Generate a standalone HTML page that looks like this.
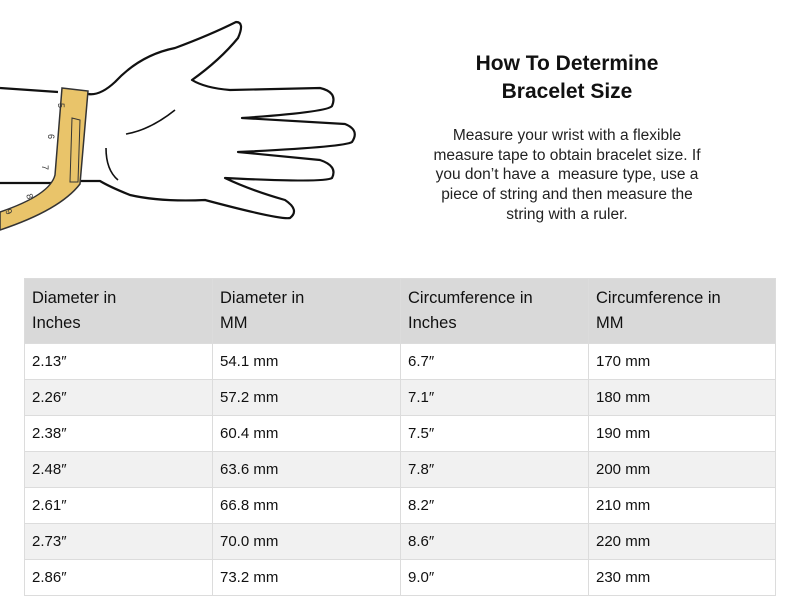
<!DOCTYPE html>
<html><head><meta charset="utf-8"><style>
body{margin:0;width:800px;height:600px;background:#fff;font-family:"Liberation Sans",sans-serif;position:relative;overflow:hidden;color:#222}
.title{position:absolute;left:417px;top:50px;width:300px;text-align:center;font-weight:bold;font-size:21px;line-height:28px;color:#111}
.desc{position:absolute;left:387px;top:126px;width:360px;text-align:center;font-size:15.5px;line-height:19.7px;color:#222;white-space:nowrap}
table{position:absolute;left:24px;top:278px;width:752px;border-collapse:collapse;font-size:15px}
td,th{border:1px solid #dcdcdc;text-align:left;padding:0 0 0 7px;font-weight:normal}
th{background:#d9d9d9;height:64px;font-size:16.5px;line-height:25px;color:#111;vertical-align:middle}
td{height:35px;color:#111}
tr:nth-child(odd) td{background:#f1f1f1}
</style></head><body>
<svg width="400" height="260" style="position:absolute;left:0;top:0">
<path d="M0,88 L58,92 M88,94 Q100,96 115,82 Q140,55 175,48 Q210,35 236,22 Q245,22 238,38 Q220,60 192,80 Q205,88 230,90 L320,88 Q338,92 332,106 Q328,112 242,118 L345,124 Q360,130 352,142 Q345,147 238,152 L320,160 Q338,166 332,178 Q325,183 225,178 Q250,190 285,200 Q300,210 290,218 Q280,220 205,200 Q160,202 130,195 Q110,187 100,181 L80,181 M0,183 L60,183" fill="none" stroke="#111" stroke-width="2.2" stroke-linejoin="round"/>
<path d="M126,134 Q150,130 175,110 M106,148 Q106,170 118,180" fill="none" stroke="#111" stroke-width="1.6"/>
<path d="M62,88 L88,91 L80,184 Q60,210 0,230 L0,212 Q50,195 55,175 Z" fill="#e9c46a" stroke="#333" stroke-width="1.5"/>
<path d="M72,118 L80,120 L78,182 L70,182 Z" fill="#e9c46a" stroke="#333" stroke-width="1"/>
<text x="58" y="103" font-size="9" fill="#333" transform="rotate(90 58 103)">5</text>
<text x="48" y="134" font-size="9" fill="#333" transform="rotate(90 48 134)">6</text>
<text x="42" y="165" font-size="9" fill="#333" transform="rotate(90 42 165)">7</text>
<text x="26" y="195" font-size="9" fill="#333" transform="rotate(70 26 195)">8</text>
<text x="5" y="211" font-size="9" fill="#333" transform="rotate(60 5 211)">9</text>
</svg>
<div class="title">How To Determine<br>Bracelet Size</div>
<div class="desc">Measure your wrist with a flexible<br>measure tape to obtain bracelet size. If<br>you don’t have a &nbsp;measure type, use a<br>piece of string and then measure the<br>string with a ruler.</div>
<table>
<tr><th style="width:180px">Diameter in<br>Inches</th><th style="width:180px">Diameter in<br>MM</th><th style="width:180px">Circumference in<br>Inches</th><th>Circumference in<br>MM</th></tr>
<tr><td>2.13″</td><td>54.1 mm</td><td>6.7″</td><td>170 mm</td></tr>
<tr><td>2.26″</td><td>57.2 mm</td><td>7.1″</td><td>180 mm</td></tr>
<tr><td>2.38″</td><td>60.4 mm</td><td>7.5″</td><td>190 mm</td></tr>
<tr><td>2.48″</td><td>63.6 mm</td><td>7.8″</td><td>200 mm</td></tr>
<tr><td>2.61″</td><td>66.8 mm</td><td>8.2″</td><td>210 mm</td></tr>
<tr><td>2.73″</td><td>70.0 mm</td><td>8.6″</td><td>220 mm</td></tr>
<tr><td>2.86″</td><td>73.2 mm</td><td>9.0″</td><td>230 mm</td></tr>
</table>
</body></html>
